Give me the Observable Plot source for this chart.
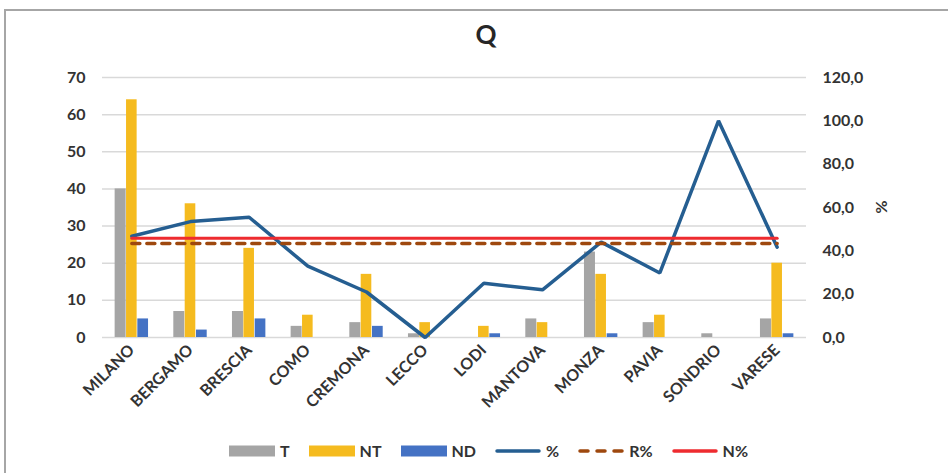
<!DOCTYPE html>
<html>
<head>
<meta charset="utf-8">
<script src="https://cdn.jsdelivr.net/npm/d3@7"></script>
<script src="https://cdn.jsdelivr.net/npm/@observablehq/plot@0.6"></script>
<style>
  html, body { margin: 0; padding: 0; background: #fff; }
  #page { position: relative; width: 948px; height: 473px; overflow: hidden; font-family: Lato, "Open Sans", sans-serif; font-weight: 700; color: #333; }
  #frame { position: absolute; left: 4px; top: 9px; width: 1000px; height: 500px; border-left: 2px solid #a6a6a6; border-top: 2px solid #a6a6a6; }
  #title { position: absolute; left: 0; width: 972px; top: 19px; line-height: 30px; font-size: 26px; text-align: center; color: #262626; }
  #chart { position: absolute; left: 0; top: 60px; }
  #ylab2 { position: absolute; left: 872px; top: 197px; width: 20px; height: 20px; line-height: 20px; font-size: 16px; text-align: center; transform: rotate(90deg); }
  #legend { position: absolute; left: 0; width: 977px; top: 441px; display: flex; justify-content: center; align-items: center; gap: 19px; font-size: 16px; }
  .item { display: flex; align-items: center; gap: 5px; }
  .item svg { display: block; }
</style>
</head>
<body>
<div id="page">
  <div id="frame"></div>
  <div id="title">Q</div>
  <div id="chart"></div>
  <div id="ylab2">%</div>
  <div id="legend"></div>
</div>
<script>
const cities = ["MILANO","BERGAMO","BRESCIA","COMO","CREMONA","LECCO","LODI","MANTOVA","MONZA","PAVIA","SONDRIO","VARESE"];
const T  = [40, 7, 7, 3, 4, 1, 0, 5, 23, 4, 1, 5];
const NT = [64, 36, 24, 6, 17, 4, 3, 4, 17, 6, 0, 20];
const ND = [5, 2, 5, 0, 3, 0, 1, 0, 1, 0, 0, 1];
const pct  = [46.7, 53.5, 55.5, 32.9, 21.0, 0.0, 25.0, 22.0, 44.0, 29.8, 100.0, 41.7];
const Rpct = [43.4, 43.4, 43.4, 43.4, 43.4, 43.4, 43.4, 43.4, 43.4, 43.4, 43.4, 43.4];
const Npct = [45.8, 45.8, 45.8, 45.8, 45.8, 45.8, 45.8, 45.8, 45.8, 45.8, 45.8, 45.8];
const leftTicks = [0, 10, 20, 30, 40, 50, 60, 70];
const rightTicks = [0, 20, 40, 60, 80, 100, 120];
const rightLabels = ["0,0", "20,0", "40,0", "60,0", "80,0", "100,0", "120,0"];

const colors = {T: "#a5a5a5", NT: "#f5bb1f", ND: "#4472c4", pct: "#255e91", R: "#9e480e", N: "#ee2b2f"};

const rows = cities.map((c, i) => ({city: c, T: T[i], NT: NT[i], ND: ND[i], pct: pct[i], R: Rpct[i], N: Npct[i]}));

const W = 948, H = 380, ML = 102, MR = 142, MT = 17, MB = 103;
const bw = (W - ML - MR) / cities.length;
const half = bw / 2;
const k = 70 / 120; // right axis (0-120) mapped on left axis (0-70)

const chart = Plot.plot({
  width: W, height: H,
  marginLeft: ML, marginRight: MR, marginTop: MT, marginBottom: MB,
  style: {fontFamily: "Lato, 'Open Sans', sans-serif", fontSize: "16px", fontWeight: "700", color: "#333", background: "transparent", overflow: "visible"},
  x: {domain: cities, padding: 0, align: 0.5, round: false},
  y: {domain: [0, 70]},
  marks: [
    Plot.ruleY(leftTicks, {stroke: "#d9d9d9", strokeWidth: 1.5}),
    Plot.barY(rows, {x: "city", y: "T", fill: colors.T, insetLeft: half - 16.7, insetRight: half + 5.7}),
    Plot.barY(rows, {x: "city", y: "NT", fill: colors.NT, insetLeft: half - 5.3, insetRight: half - 5.3}),
    Plot.barY(rows, {x: "city", y: "ND", fill: colors.ND, insetLeft: half + 6, insetRight: half - 16.7}),
    Plot.lineY(rows, {x: "city", y: d => d.pct * k, stroke: colors.pct, strokeWidth: 3.5, strokeLinejoin: "miter"}),
    Plot.lineY(rows, {x: "city", y: d => d.R * k, stroke: colors.R, strokeWidth: 3.5, strokeDasharray: "8,7", strokeLinecap: "round"}),
    Plot.lineY(rows, {x: "city", y: d => d.N * k, stroke: colors.N, strokeWidth: 3}),
    Plot.axisY({anchor: "left", ticks: leftTicks, tickSize: 0, tickPadding: 17, label: null}),
    Plot.axisY({anchor: "right", ticks: rightTicks.map(v => v * k), tickSize: 0, tickPadding: 16, label: null,
      tickFormat: d => rightLabels[rightTicks.indexOf(Math.round(d / k))]}),
    Plot.axisX({tickRotate: -45, tickSize: 0, tickPadding: 10, label: null})
  ]
});
document.getElementById("chart").appendChild(chart);

// Legend
const legendItems = [
  {label: "T", kind: "rect", color: colors.T},
  {label: "NT", kind: "rect", color: colors.NT},
  {label: "ND", kind: "rect", color: colors.ND},
  {label: "%", kind: "line", color: colors.pct},
  {label: "R%", kind: "dash", color: colors.R},
  {label: "N%", kind: "line", color: colors.N}
];
const legend = document.getElementById("legend");
for (const it of legendItems) {
  const div = document.createElement("div");
  div.className = "item";
  let sw;
  if (it.kind === "rect") {
    sw = `<svg width="46" height="12"><rect x="0" y="0.5" width="46" height="11" fill="${it.color}"/></svg>`;
  } else if (it.kind === "line") {
    sw = `<svg width="46" height="12"><line x1="2" x2="44" y1="6" y2="6" stroke="${it.color}" stroke-width="3.5" stroke-linecap="round"/></svg>`;
  } else {
    sw = `<svg width="46" height="12"><line x1="2" x2="44" y1="6" y2="6" stroke="${it.color}" stroke-width="3.5" stroke-linecap="round" stroke-dasharray="8,9"/></svg>`;
  }
  div.innerHTML = sw + `<span>${it.label}</span>`;
  legend.appendChild(div);
}
</script>
</body>
</html>
